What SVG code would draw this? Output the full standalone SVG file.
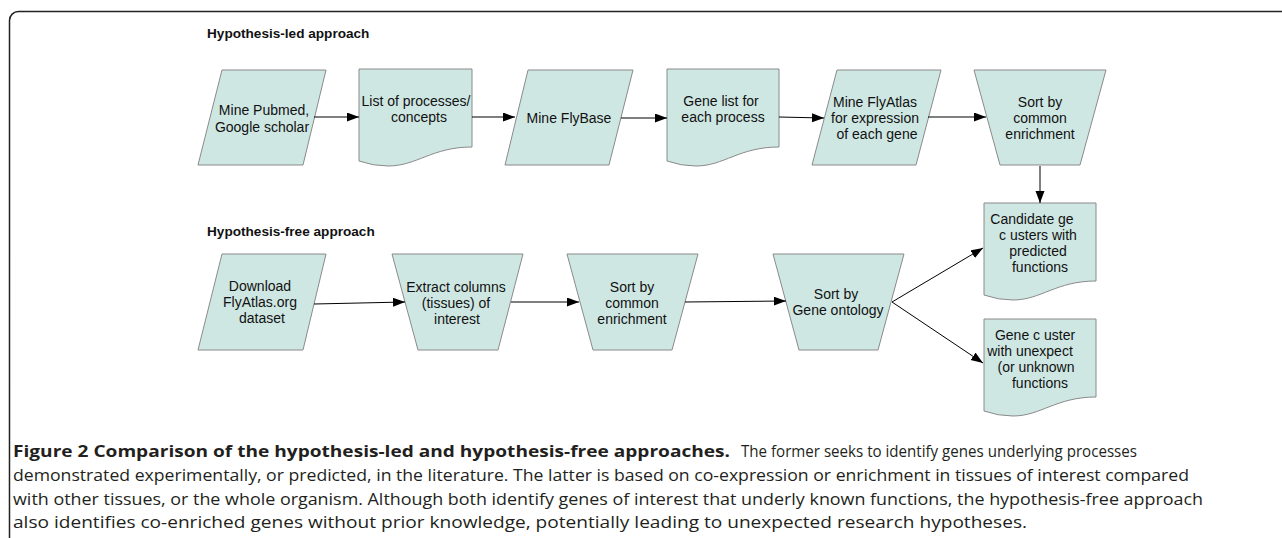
<svg xmlns="http://www.w3.org/2000/svg" width="1282" height="538" viewBox="0 0 1282 538">
<style>
.shape{fill:#cfe7e3;stroke:#8a8a8a;stroke-width:1}
.lbl{font-family:"Liberation Sans",Arial,sans-serif;font-size:14px;fill:#111;text-anchor:middle}
.ttl{font-family:"Liberation Sans",Arial,sans-serif;font-size:13.6px;font-weight:bold;fill:#111}
.conn line{stroke:#000;stroke-width:1;marker-end:url(#ah)}
.cap{font-family:"Open Sans","Noto Sans",sans-serif;font-size:16.5px;fill:#231f20}
.capb{font-weight:bold}
</style>
<defs>
<marker id="ah" markerUnits="userSpaceOnUse" markerWidth="13" markerHeight="10" refX="12" refY="4.5" orient="auto">
<path d="M0,0 L12,4.5 L0,9 z" fill="#000"/>
</marker>
</defs>
<rect width="1282" height="538" fill="#fff"/>
<rect x="9.5" y="11.5" width="1400" height="700" rx="9" fill="none" stroke="#222" stroke-width="1.5"/>
<text class="ttl" x="207" y="38">Hypothesis-led approach</text>
<text class="ttl" x="207" y="236">Hypothesis-free approach</text>

<g id="n1"><polygon class="shape" points="222,70 326,70 303,165 198,165"/>
<text class="lbl" x="264" y="115">Mine Pubmed,</text><text class="lbl" x="262" y="132">Google scholar</text></g>
<g id="n2"><path class="shape" d="M359,69 H472 V147 C432,147 417,166 388,166 Q373,166 359,161 Z"/>
<text class="lbl" x="416" y="106">List of processes/</text><text class="lbl" x="419" y="122">concepts</text></g>
<g id="n3"><polygon class="shape" points="528,70 633,70 609,165 505,165"/>
<text class="lbl" x="569" y="123">Mine FlyBase</text></g>
<g id="n4"><path class="shape" d="M667,69 H779 V147 C739,147 724,166 696,166 Q681,166 667,161 Z"/>
<text class="lbl" x="721" y="106">Gene list for</text><text class="lbl" x="723" y="122">each process</text></g>
<g id="n5"><polygon class="shape" points="837,70 941,70 916,165 812,165"/>
<text class="lbl" x="875" y="107">Mine FlyAtlas</text><text class="lbl" x="875" y="123">for expression</text><text class="lbl" x="877" y="139">of each gene</text></g>
<g id="n6"><polygon class="shape" points="974,70 1106,70 1080,165 1000,165"/>
<text class="lbl" x="1040" y="107">Sort by</text><text class="lbl" x="1040" y="123">common</text><text class="lbl" x="1040" y="139">enrichment</text></g>
<g id="n7"><path class="shape" d="M984,203 H1096 V281 C1056,281 1041,300 1013,300 Q998,300 984,295 Z"/>
<text class="lbl" x="1032" y="224">Candidate ge</text><text class="lbl" x="1038" y="240">c usters with</text><text class="lbl" x="1038" y="256">predicted</text><text class="lbl" x="1040" y="272">functions</text></g>
<g id="n8"><path class="shape" d="M984,319 H1096 V397 C1056,397 1041,416 1013,416 Q998,416 984,411 Z"/>
<text class="lbl" x="1035" y="340">Gene c uster</text><text class="lbl" x="1030" y="356">with unexpect</text><text class="lbl" x="1036" y="372">(or unknown</text><text class="lbl" x="1040" y="388">functions</text></g>
<g id="n9"><polygon class="shape" points="222,254 326,254 303,350 198,350"/>
<text class="lbl" x="260" y="291">Download</text><text class="lbl" x="260" y="307">FlyAtlas.org</text><text class="lbl" x="262" y="323">dataset</text></g>
<g id="n10"><polygon class="shape" points="392,254 523,254 498,350 418,350"/>
<text class="lbl" x="456" y="292">Extract columns</text><text class="lbl" x="456" y="308">(tissues) of</text><text class="lbl" x="457" y="324">interest</text></g>
<g id="n11"><polygon class="shape" points="567,254 698,254 672,350 593,350"/>
<text class="lbl" x="632" y="292">Sort by</text><text class="lbl" x="632" y="308">common</text><text class="lbl" x="632" y="324">enrichment</text></g>
<g id="n12"><polygon class="shape" points="773,254 904,254 878,350 799,350"/>
<text class="lbl" x="836" y="299">Sort by</text><text class="lbl" x="838" y="315">Gene ontology</text></g>

<g id="connectors" class="conn">
<line x1="314" y1="117" x2="359" y2="117"/>
<line x1="472" y1="117" x2="515" y2="117"/>
<line x1="621" y1="118" x2="667" y2="118"/>
<line x1="779" y1="117" x2="824" y2="118"/>
<line x1="928" y1="117" x2="986" y2="117"/>
<line x1="1040" y1="166" x2="1040" y2="203"/>
<line x1="314" y1="304" x2="405" y2="302"/>
<line x1="511" y1="302" x2="579" y2="302"/>
<line x1="685" y1="302" x2="786" y2="301"/>
<line x1="892" y1="302" x2="983" y2="248"/>
<line x1="892" y1="302" x2="983" y2="363"/>
</g>

<g id="caption">
<text class="cap capb" x="13" y="457" textLength="717" lengthAdjust="spacingAndGlyphs">Figure 2 Comparison of the hypothesis-led and hypothesis-free approaches.</text>
<text class="cap" x="741" y="457" textLength="396" lengthAdjust="spacingAndGlyphs">The former seeks to identify genes underlying processes</text>
<text class="cap" x="13" y="481" textLength="1176" lengthAdjust="spacingAndGlyphs">demonstrated experimentally, or predicted, in the literature. The latter is based on co-expression or enrichment in tissues of interest compared</text>
<text class="cap" x="13" y="504.5" textLength="1190" lengthAdjust="spacingAndGlyphs">with other tissues, or the whole organism. Although both identify genes of interest that underly known functions, the hypothesis-free approach</text>
<text class="cap" x="13" y="528" textLength="1014" lengthAdjust="spacingAndGlyphs">also identifies co-enriched genes without prior knowledge, potentially leading to unexpected research hypotheses.</text>
</g>
</svg>
